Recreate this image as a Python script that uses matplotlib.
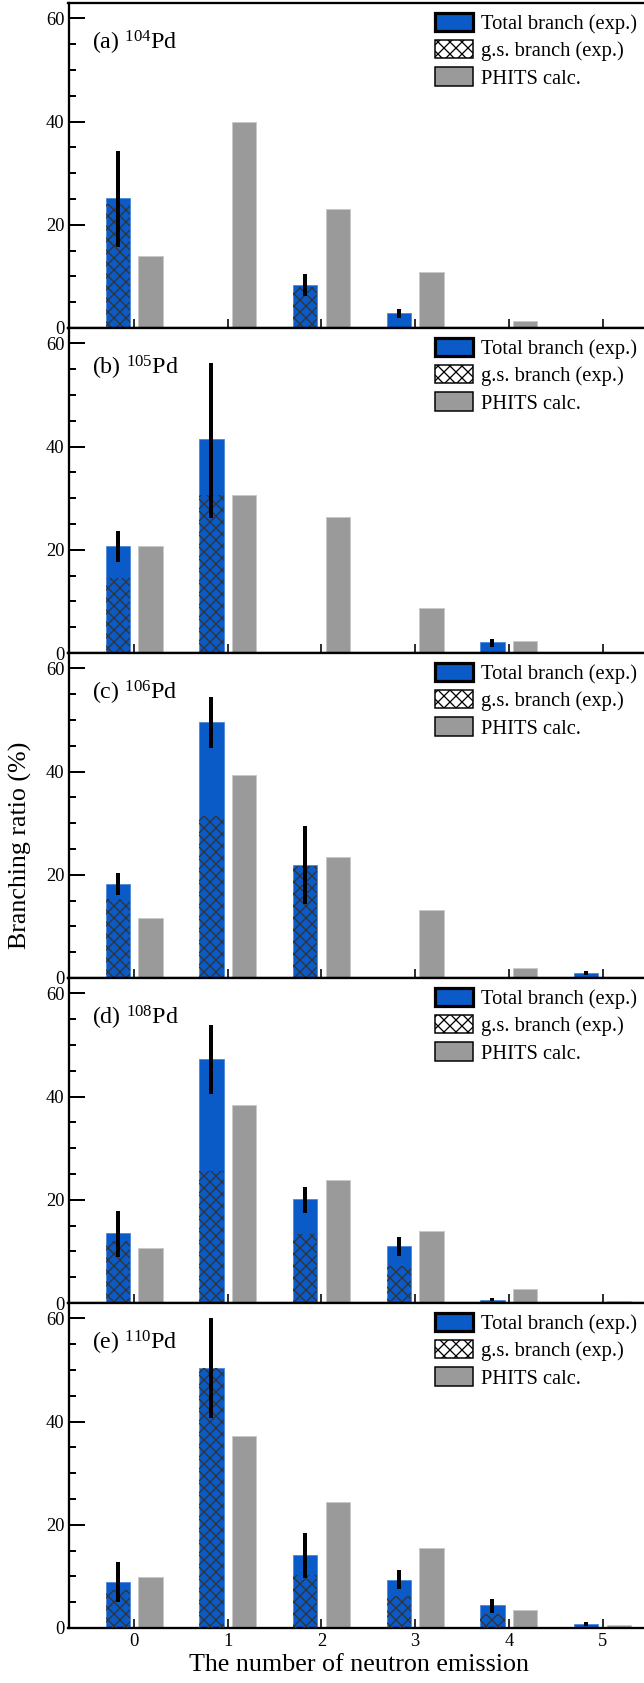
"""
Branching ratios for neutron emission channels of Pd isotopes:
experimental total / ground-state branches compared with PHITS calculation.
"""

import numpy as np
import matplotlib
matplotlib.use("Agg")
import matplotlib.pyplot as plt
from matplotlib.patches import Patch
from matplotlib.ticker import MultipleLocator


# -----------------------------------------------------------------------------
# 1. DATA (in %)
# -----------------------------------------------------------------------------
nan = np.nan
n_emission = [0, 1, 2, 3, 4, 5]
panel_tags = ["(a)", "(b)", "(c)", "(d)", "(e)"]
mass_numbers = ["104", "105", "106", "108", "110"]

# 104Pd
total_104 = [25.2, nan, 8.3, 2.9, nan, nan]
gs_104 = [24.0, nan, 8.0, nan, nan, nan]
lo_104 = [15.7, nan, 6.2, 2.0, nan, nan]
hi_104 = [34.4, nan, 10.5, 3.6, nan, nan]
phits_104 = [13.9, 40.0, 23.0, 10.8, 1.4, 0.0]

# 105Pd
total_105 = [20.7, 41.4, nan, nan, 2.1, nan]
gs_105 = [14.5, 30.6, nan, nan, nan, nan]
lo_105 = [17.6, 26.2, nan, nan, 1.2, nan]
hi_105 = [23.7, 56.3, nan, nan, 2.8, nan]
phits_105 = [20.8, 30.7, 26.4, 8.7, 2.4, 0.0]

# 106Pd
total_106 = [18.2, 49.6, 22.0, nan, nan, 0.9]
gs_106 = [15.4, 31.5, 21.8, nan, nan, nan]
lo_106 = [16.0, 44.5, 14.4, nan, nan, 0.5]
hi_106 = [20.3, 54.4, 29.4, nan, nan, 1.4]
phits_106 = [11.7, 39.4, 23.4, 13.1, 1.9, 0.2]

# 108Pd
total_108 = [13.5, 47.3, 20.1, 11.0, 0.6, nan]
gs_108 = [12.0, 25.6, 13.3, 7.2, nan, nan]
lo_108 = [9.0, 40.6, 17.5, 9.2, 0.3, nan]
hi_108 = [17.9, 53.8, 22.4, 12.7, 1.0, nan]
phits_108 = [10.7, 38.4, 23.8, 14.0, 2.7, 0.4]

# 110Pd
total_110 = [9.0, 50.4, 14.1, 9.4, 4.4, 0.8]
gs_110 = [7.4, 50.4, 10.2, 6.3, 2.8, nan]
lo_110 = [5.0, 40.7, 9.7, 7.5, 3.0, 0.3]
hi_110 = [12.8, 60.0, 18.4, 11.3, 5.7, 1.2]
phits_110 = [9.9, 37.3, 24.5, 15.6, 3.4, 0.6]

panels = [
    (total_104, gs_104, lo_104, hi_104, phits_104),
    (total_105, gs_105, lo_105, hi_105, phits_105),
    (total_106, gs_106, lo_106, hi_106, phits_106),
    (total_108, gs_108, lo_108, hi_108, phits_108),
    (total_110, gs_110, lo_110, hi_110, phits_110),
]

BLUE = "#0a5ac8"
GREY = "#9a9a9a"
HATCH = "#333333"


# -----------------------------------------------------------------------------
# 2. CHART
# -----------------------------------------------------------------------------
def draw_panel(ax, tag, mass, total, gs, lo, hi, phits):
    x = np.array(n_emission, dtype=float)
    width = 0.26
    off = 0.175

    ax.bar(x - off, total, width, color=BLUE, edgecolor="#4a86d8",
           linewidth=0.8, zorder=2)
    ax.bar(x - off, gs, width, color="none", edgecolor=HATCH, hatch="xx",
           linewidth=0, zorder=3)
    ax.bar(x + off, phits, width, color=GREY, edgecolor="#c8c8c8",
           linewidth=1.0, zorder=2)
    ax.vlines(x - off, lo, hi, color="black", linewidth=4, zorder=4)

    ax.set_xlim(-0.7, 5.5)
    ax.set_ylim(0, 63)
    ax.set_xticks(n_emission)
    ax.yaxis.set_major_locator(MultipleLocator(20))
    ax.yaxis.set_minor_locator(MultipleLocator(5))
    ax.tick_params(axis="y", which="major", direction="in", length=16,
                   width=2, labelsize=18.5, pad=4)
    ax.tick_params(axis="y", which="minor", direction="in", length=7,
                   width=2)
    ax.tick_params(axis="x", which="major", direction="in", length=9,
                   width=1.6, labelsize=18.5, pad=5)
    for side in ["left", "top", "bottom"]:
        ax.spines[side].set_linewidth(2.3)
    ax.spines["right"].set_visible(False)

    ax.text(0.040, 0.858, tag + r" $^{\mathrm{" + mass + r"}}$Pd",
            transform=ax.transAxes, fontsize=24, va="baseline", ha="left")

    handles = [
        Patch(facecolor=BLUE, edgecolor="black", linewidth=3.2,
              joinstyle="round"),
        Patch(facecolor="white", edgecolor="black", hatch="xx",
              linewidth=1.5),
        Patch(facecolor=GREY, edgecolor="black", linewidth=1.5),
    ]
    labels = ["Total branch (exp.)", "g.s. branch (exp.)", "PHITS calc."]
    ax.legend(handles, labels, loc="upper right",
              bbox_to_anchor=(0.979, 0.97), frameon=False, fontsize=20.5,
              borderpad=0, borderaxespad=0, handlelength=1.85,
              handleheight=1.0, handletextpad=0.4, labelspacing=0.3)


def main():
    plt.rcParams["font.family"] = ["Liberation Serif", "DejaVu Serif"]
    plt.rcParams["mathtext.fontset"] = "custom"
    plt.rcParams["mathtext.rm"] = "Liberation Serif"
    plt.rcParams["mathtext.it"] = "Liberation Serif:italic"
    plt.rcParams["hatch.linewidth"] = 1.3

    W, H = 644, 1683
    fig = plt.figure(figsize=(W / 72, H / 72), dpi=72)

    left_px, right_px = 68.5, 649.4
    top_px, panel_h = 3, 325
    axes = []
    for i, (tag, mass, data) in enumerate(zip(panel_tags, mass_numbers,
                                              panels)):
        bottom_px = top_px + panel_h * (i + 1)
        ax = fig.add_axes([left_px / W, 1 - bottom_px / H,
                           (right_px - left_px) / W, panel_h / H])
        draw_panel(ax, tag, mass, *data)
        if i < len(panels) - 1:
            ax.tick_params(axis="x", labelbottom=False)
        axes.append(ax)

    axes[-1].set_xlabel("The number of neutron emission", fontsize=26,
                        labelpad=4)
    fig.text(20 / W, 1 - 845 / H, "Branching ratio (%)", fontsize=26,
             rotation=90, ha="center", va="center")

    fig.savefig("out.png", dpi=72)
    plt.close(fig)


if __name__ == "__main__":
    main()
